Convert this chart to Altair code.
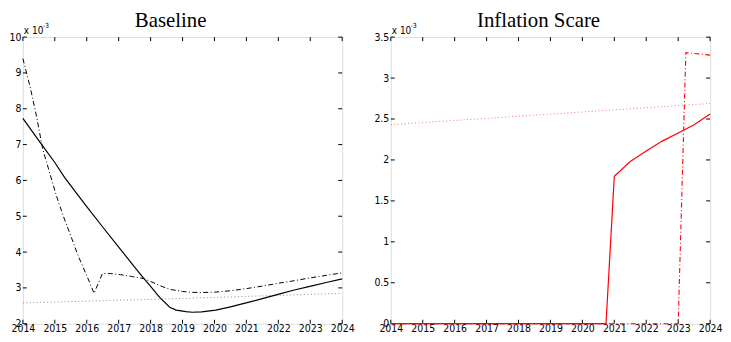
import altair as alt
import pandas as pd

# ---------------- data (values in units of 1e-3) ----------------
years = list(range(2014, 2025))
base_yticks = [2, 3, 4, 5, 6, 7, 8, 9, 10]
scare_yticks = [0, 0.5, 1, 1.5, 2, 2.5, 3, 3.5]

base_solid_x = [2014, 2014.5, 2015, 2015.31, 2015.82, 2016, 2016.5, 2017, 2017.5, 2017.78, 2018,
                2018.29, 2018.6, 2018.8, 2019.11, 2019.3, 2019.6, 2020.04, 2020.5, 2021.02,
                2021.5, 2021.99, 2022.5, 2023.02, 2023.5, 2024]
base_solid_y = [7.73, 7.11, 6.50, 6.08, 5.48, 5.27, 4.70, 4.14, 3.58, 3.27, 3.04,
                2.73, 2.46, 2.38, 2.34, 2.32, 2.33, 2.38, 2.47, 2.59,
                2.70, 2.82, 2.94, 3.05, 3.15, 3.25]

base_dash_x = [2014, 2014.23, 2014.43, 2014.62, 2015.05, 2015.26, 2015.5, 2015.72, 2016.03, 2016.23,
               2016.49, 2016.75, 2017.06, 2017.4, 2017.78, 2018, 2018.3, 2018.6, 2019, 2019.22,
               2019.52, 2020, 2020.5, 2021, 2021.5, 2022, 2022.5, 2023, 2023.5, 2024]
base_dash_y = [9.40, 8.60, 7.78, 6.88, 5.57, 5.02, 4.45, 3.92, 3.28, 2.85,
               3.40, 3.40, 3.37, 3.32, 3.26, 3.18, 3.06, 2.96, 2.90, 2.88,
               2.87, 2.88, 2.92, 2.98, 3.05, 3.13, 3.20, 3.28, 3.35, 3.42]

base_dot_x = [2014, 2015.2, 2019.2, 2024]
base_dot_y = [2.58, 2.61, 2.71, 2.85]

scare_solid_x = [2014, 2020.74, 2021, 2021.5, 2022, 2022.5, 2023, 2023.5, 2024]
scare_solid_y = [0, 0, 1.80, 1.98, 2.11, 2.23, 2.33, 2.43, 2.56]

scare_dash_x = [2014, 2023.0, 2023.24, 2024]
scare_dash_y = [0, 0, 3.31, 3.28]

scare_dot_x = [2014, 2024]
scare_dot_y = [2.43, 2.69]

titles = ["Baseline", "Inflation Scare"]

W, H = 322, 289
TICK_FONT = "Liberation Sans Narrow, DejaVu Sans Condensed, Arial Narrow, Liberation Sans"


def panel(title, ydomain, yticks, yfmt, series):
    xs = alt.Scale(domain=[2014, 2024], nice=False, zero=False)
    ys = alt.Scale(domain=ydomain, nice=False, zero=False)
    xaxis = alt.Axis(values=years, format="d", ticks=False, domain=False, grid=False,
                     labelFlush=False, labelOverlap=False, labelPadding=0,
                     labelFont=TICK_FONT, labelFontSize=10.5, labelColor="black")
    yaxis = alt.Axis(values=yticks, format=yfmt, ticks=False, domain=False, grid=False,
                     labelFlush=False, labelOverlap=False, labelPadding=2,
                     labelFont=TICK_FONT, labelFontSize=10.5, labelColor="black")
    layers = []
    xt = pd.DataFrame({"x": years})
    yt = pd.DataFrame({"y": yticks})
    X = alt.X("x:Q", scale=xs, axis=xaxis, title=None)
    Y = alt.Y("y:Q", scale=ys, axis=yaxis, title=None)
    layers.append(alt.Chart(xt).mark_rule(color="black", strokeWidth=1).encode(
        x=X, y=alt.value(0), y2=alt.value(4)))
    layers.append(alt.Chart(xt).mark_rule(color="black", strokeWidth=1).encode(
        x=X, y=alt.value(H), y2=alt.value(H - 4)))
    layers.append(alt.Chart(yt).mark_rule(color="black", strokeWidth=1).encode(
        y=Y, x=alt.value(0), x2=alt.value(4)))
    layers.append(alt.Chart(yt).mark_rule(color="black", strokeWidth=1).encode(
        y=Y, x=alt.value(W), x2=alt.value(W - 4)))
    for xv, yv, color, dash, sw, op in series:
        df = pd.DataFrame({"x": xv, "y": yv})
        kw = dict(color=color, strokeWidth=sw, opacity=op)
        if dash:
            kw["strokeDash"] = dash
        layers.append(alt.Chart(df).mark_line(**kw).encode(x=X, y=Y))
    layers.append(alt.Chart(pd.DataFrame({"t": ["x 10"]})).mark_text(
        align="left", baseline="alphabetic", font=TICK_FONT, fontSize=10, color="black"
    ).encode(text="t:N", x=alt.value(1), y=alt.value(-3)))
    layers.append(alt.Chart(pd.DataFrame({"t": ["-3"]})).mark_text(
        align="left", baseline="alphabetic", font=TICK_FONT, fontSize=7, color="black"
    ).encode(text="t:N", x=alt.value(20), y=alt.value(-9)))
    layers.append(alt.Chart(pd.DataFrame({"t": [title]})).mark_text(
        align="center", baseline="alphabetic", font="Liberation Serif", fontSize=21,
        color="black"
    ).encode(text="t:N", x=alt.value(W / 2 - 12), y=alt.value(-10)))
    return alt.layer(*layers).properties(width=W, height=H)


left = panel(titles[0], [2, 10], base_yticks, "d", [
    (base_dot_x, base_dot_y, "#8c8c8c", [1, 2.5], 1, 1),
    (base_dash_x, base_dash_y, "black", [5, 2.5, 1, 2.5], 1, 1),
    (base_solid_x, base_solid_y, "black", None, 1.2, 1),
])
right = panel(titles[1], [0, 3.5], scare_yticks, "~r", [
    (scare_dot_x, scare_dot_y, "#ff0000", [1, 2.5], 1, 0.55),
    (scare_dash_x, scare_dash_y, "#ff0000", [5, 2.5, 1, 2.5], 1.1, 1),
    (scare_solid_x, scare_solid_y, "#ff0000", None, 1.2, 1),
])

chart = alt.hconcat(left, right, spacing=49, bounds="flush").properties(
    padding={"left": 0, "top": 0, "right": 0, "bottom": -2}
).configure_view(stroke="black", strokeWidth=1).configure(background="white")

chart.save("out.html", embed_options={"renderer": "svg", "actions": False})
